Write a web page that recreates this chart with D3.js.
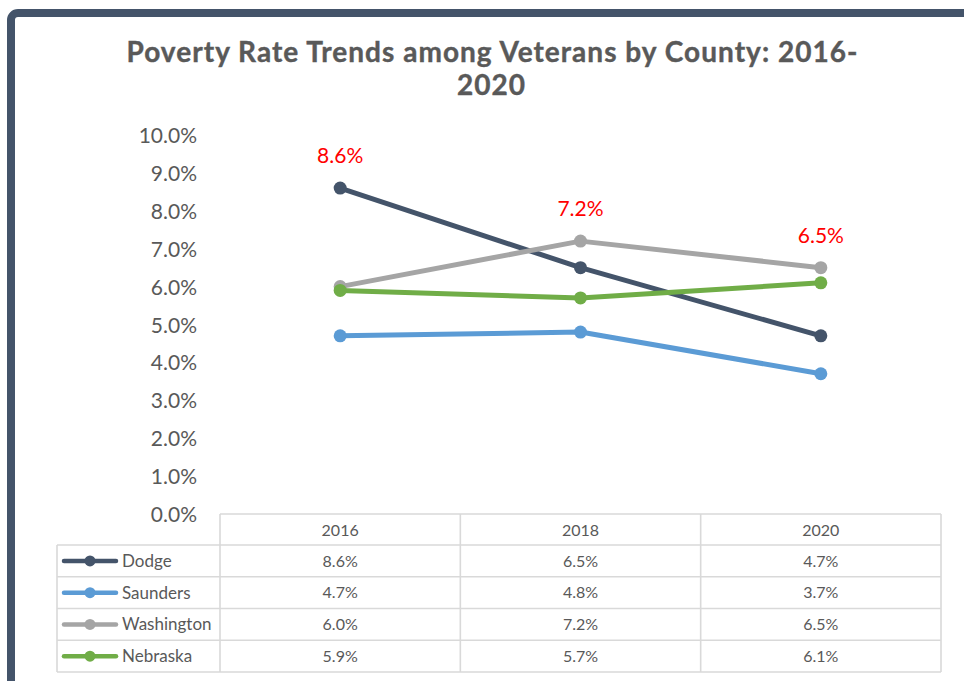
<!DOCTYPE html>
<html>
<head>
<meta charset="utf-8">
<script src="https://cdn.jsdelivr.net/npm/d3@7/dist/d3.min.js"></script>
<style>
  html, body { margin: 0; padding: 0; background: #fff; }
  svg { display: block; }
</style>
</head>
<body>
<svg id="chart" width="964" height="681"></svg>
<script>
// Data
const years = ["2016", "2018", "2020"];
const seriesNames = ["Dodge", "Saunders", "Washington", "Nebraska"];
const dodge = [8.6, 6.5, 4.7];
const saunders = [4.7, 4.8, 3.7];
const washington = [6.0, 7.2, 6.5];
const nebraska = [5.9, 5.7, 6.1];
const yTicks = [0, 1, 2, 3, 4, 5, 6, 7, 8, 9, 10];
const seriesColors = ["#44546A", "#5B9BD5", "#A5A5A5", "#70AD47"];

const series = seriesNames.map((name, i) => ({
  name,
  color: seriesColors[i],
  values: [dodge, saunders, washington, nebraska][i]
}));

const svg = d3.select("#chart");
const textGray = "#595959";
const gridGray = "#D9D9D9";
const fmt = v => d3.format(".1f")(v) + "%";

// Frame
svg.append("rect")
  .attr("x", 11).attr("y", 13)
  .attr("width", 1000).attr("height", 800)
  .attr("rx", 7).attr("ry", 7)
  .attr("fill", "none")
  .attr("stroke", "#44546A")
  .attr("stroke-width", 8);

// Title
const title = svg.append("g")
  .attr("font-family", "Lato, 'Open Sans', sans-serif")
  .attr("font-weight", 700)
  .attr("font-size", 28)
  .attr("fill", textGray)
  .attr("stroke", textGray)
  .attr("stroke-width", 0.4)
  .attr("text-anchor", "middle");
title.append("text").attr("x", 492).attr("y", 62)
  .attr("textLength", 731).attr("lengthAdjust", "spacing")
  .text("Poverty Rate Trends among Veterans by County: 2016-");
title.append("text").attr("x", 491).attr("y", 95)
  .attr("textLength", 68).attr("lengthAdjust", "spacing")
  .text("2020");

// Scales
const x = d3.scaleBand().domain(years).range([220, 941]);
const xc = yr => x(yr) + x.bandwidth() / 2;
const y = d3.scaleLinear().domain([0, 10]).range([514, 135]);

// Y axis labels (no axis line)
const yAxis = d3.axisLeft(y).tickValues(yTicks).tickFormat(fmt).tickSize(0).tickPadding(0);
const yg = svg.append("g").attr("transform", "translate(197,0)").call(yAxis);
yg.select(".domain").remove();
yg.selectAll("text")
  .attr("font-family", "Lato, 'Open Sans', sans-serif")
  .attr("font-size", 21)
  .attr("fill", textGray)
  .attr("dy", "0.36em");

// Lines
const line = d3.line().x((d, i) => xc(years[i])).y(d => y(d));
const sg = svg.append("g");
series.forEach(s => {
  const g = sg.append("g");
  g.append("path")
    .attr("d", line(s.values))
    .attr("fill", "none")
    .attr("stroke", s.color)
    .attr("stroke-width", 5)
    .attr("stroke-linejoin", "round")
    .attr("stroke-linecap", "round");
  g.selectAll("circle").data(s.values).join("circle")
    .attr("cx", (d, i) => xc(years[i]))
    .attr("cy", d => y(d))
    .attr("r", 6.5)
    .attr("fill", s.color);
});

// Red labels on the highest value for each year
const labels = years.map((yr, i) => d3.max(series, s => s.values[i]));
svg.append("g").selectAll("text").data(labels).join("text")
  .attr("x", (d, i) => xc(years[i]))
  .attr("y", d => y(d) - 25)
  .attr("text-anchor", "middle")
  .attr("font-family", "Lato, 'Open Sans', sans-serif")
  .attr("font-size", 21)
  .attr("fill", "#FF0000")
  .text(d => fmt(d));

// Data table
const table = svg.append("g");
const rowTop = 545, rowH = 31.75, headTop = 514;
const tableLeft = 57, colLeft = 220, tableRight = 941;
const tableBottom = rowTop + rowH * series.length;
const gridStyle = sel => sel.attr("stroke", gridGray).attr("stroke-width", 1.6).attr("fill", "none");

// header top line and column dividers
table.append("line").attr("x1", colLeft).attr("x2", tableRight).attr("y1", headTop).attr("y2", headTop).call(gridStyle);
[colLeft, ...years.map(yr => x(yr) + x.bandwidth())].forEach(xx => {
  table.append("line").attr("x1", xx).attr("x2", xx).attr("y1", headTop).attr("y2", tableBottom).call(gridStyle);
});
table.append("line").attr("x1", tableLeft).attr("x2", tableLeft).attr("y1", rowTop).attr("y2", tableBottom).call(gridStyle);
d3.range(series.length + 1).forEach(i => {
  const yy = rowTop + rowH * i;
  table.append("line").attr("x1", tableLeft).attr("x2", tableRight).attr("y1", yy).attr("y2", yy).call(gridStyle);
});

const cellFont = (sel, size) => sel
  .attr("font-family", "Lato, 'Open Sans', sans-serif")
  .attr("font-size", size || 16)
  .attr("fill", textGray);

// header
table.selectAll("text.head").data(years).join("text")
  .attr("class", "head")
  .attr("x", d => xc(d))
  .attr("y", headTop + rowH / 2)
  .attr("dy", "0.36em")
  .attr("text-anchor", "middle")
  .call(cellFont)
  .text(d => d);

// rows
series.forEach((s, r) => {
  const cy = rowTop + rowH * r + rowH / 2;
  table.append("line")
    .attr("x1", 64).attr("x2", 116).attr("y1", cy).attr("y2", cy)
    .attr("stroke", s.color).attr("stroke-width", 4.5).attr("stroke-linecap", "round");
  table.append("circle").attr("cx", 90).attr("cy", cy).attr("r", 5.5).attr("fill", s.color);
  table.append("text").attr("x", 122).attr("y", cy).attr("dy", "0.36em")
    .call(cellFont, 17).text(s.name);
  s.values.forEach((v, i) => {
    table.append("text")
      .attr("x", xc(years[i])).attr("y", cy).attr("dy", "0.36em")
      .attr("text-anchor", "middle")
      .call(cellFont)
      .text(fmt(v));
  });
});
</script>
</body>
</html>
